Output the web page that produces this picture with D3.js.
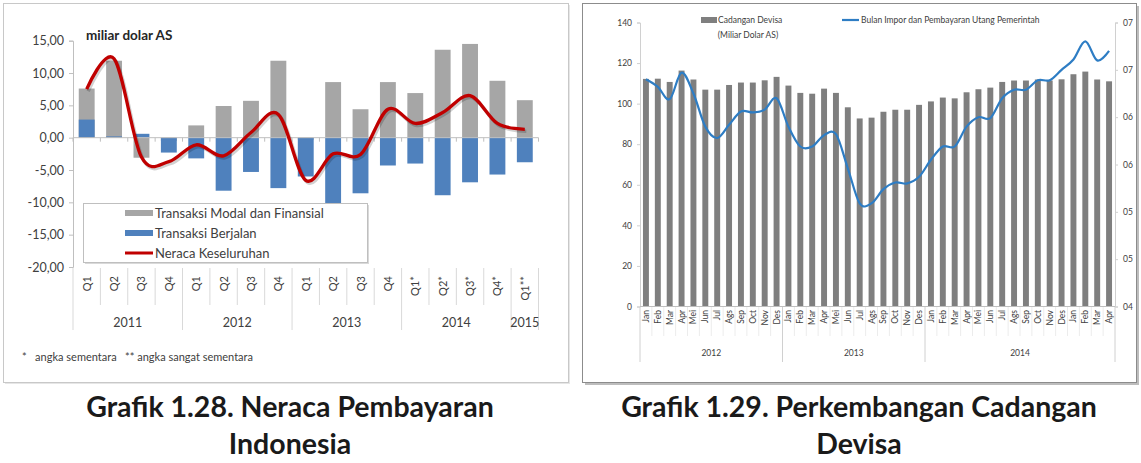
<!DOCTYPE html>
<html lang="id">
<head>
    <meta charset="UTF-8">
    <title>Neraca Pembayaran dan Cadangan Devisa</title>
    <script src="https://d3js.org/d3.v7.min.js"></script>
    <style>
        body { margin: 0; background: #fff; }
        svg { display: block; font-family: Lato, "Open Sans", sans-serif; }
    </style>
</head>
<body>
    <svg id="chart" width="1141" height="463"></svg>

    <script>
        // ---- Grafik 1.28 data (miliar dolar AS) ----
        var quarters = ["Q1", "Q2", "Q3", "Q4", "Q1", "Q2", "Q3", "Q4", "Q1", "Q2", "Q3", "Q4", "Q1*", "Q2*", "Q3*", "Q4*", "Q1**"];
        var quarterYears = ["2011", "2011", "2011", "2011", "2012", "2012", "2012", "2012", "2013", "2013", "2013", "2013", "2014", "2014", "2014", "2014", "2015"];
        var modalFinansial = [7.6, 11.9, -3.1, -0.5, 1.9, 4.9, 5.7, 11.9, -0.3, 8.6, 4.4, 8.6, 6.9, 13.6, 14.5, 8.8, 5.8];
        var transaksiBerjalan = [2.8, 0.2, 0.6, -2.3, -3.2, -8.2, -5.3, -7.8, -6.0, -10.1, -8.6, -4.3, -4.0, -8.9, -6.9, -5.7, -3.8];
        var neracaKeseluruhan = [7.5, 12.2, -3.0, -3.7, -1.1, -2.8, 0.8, 3.6, -6.6, -2.5, -2.6, 4.4, 2.2, 3.9, 6.5, 2.2, 1.3];
        var leftTicks = [-20, -15, -10, -5, 0, 5, 10, 15];
        var leftTickLabels = ["-20,00", "-15,00", "-10,00", "-5,00", "0,00", "5,00", "10,00", "15,00"];

        // ---- Grafik 1.29 data ----
        var months = ["Jan", "Feb", "Mar", "Apr", "Mei", "Jun", "Jul", "Ags", "Sep", "Oct", "Nov", "Des",
                      "Jan", "Feb", "Mar", "Apr", "Mei", "Jun", "Jul", "Ags", "Sep", "Oct", "Nov", "Des",
                      "Jan", "Feb", "Mar", "Apr", "Mei", "Jun", "Jul", "Ags", "Sep", "Oct", "Nov", "Des",
                      "Jan", "Feb", "Mar", "Apr"];
        var monthGroups = [].concat(Array(12).fill("2012"), Array(12).fill("2013"), Array(16).fill("2014"));
        var cadanganDevisa = [112.2, 112.3, 110.7, 116.3, 111.9, 106.9, 106.9, 109.2, 110.4, 110.4, 111.5, 113.2,
                              108.9, 105.3, 104.9, 107.4, 105.3, 98.2, 92.7, 93.1, 96.0, 97.0, 97.0, 99.4,
                              101.1, 103.0, 102.6, 105.6, 107.1, 107.9, 110.7, 111.4, 111.4, 111.9, 111.4, 112.0,
                              114.5, 115.8, 111.9, 111.0];
        var bulanImpor = [6.40, 6.32, 6.19, 6.47, 6.25, 5.90, 5.78, 5.92, 6.06, 6.05, 6.08, 6.20,
                          5.90, 5.69, 5.69, 5.81, 5.82, 5.46, 5.09, 5.09, 5.24, 5.31, 5.30, 5.37,
                          5.55, 5.69, 5.69, 5.90, 6.00, 5.99, 6.20, 6.29, 6.29, 6.39, 6.39, 6.50,
                          6.61, 6.80, 6.60, 6.70];
        var rightLeftTicks = [0, 20, 40, 60, 80, 100, 120, 140];
        var rightRightTicks = [4, 4.5, 5, 5.5, 6, 6.5, 7];
        var rightRightLabels = ["04", "05", "05", "06", "06", "07", "07"];

        var svg = d3.select('#chart');
        var axisGray = '#bfbfbf';
        var textGray = '#404040';

        // helper: spans of equal consecutive group values
        function groupSpans(groups) {
            var spans = [];
            groups.forEach(function (g, i) {
                if (!spans.length || spans[spans.length - 1].key !== g) spans.push({ key: g, start: i, end: i });
                else spans[spans.length - 1].end = i;
            });
            return spans;
        }

        // =====================  LEFT CHART  =====================
        var L = svg.append('g');

        // frame
        L.append('rect').attr('x', 5).attr('y', 5).attr('width', 565).attr('height', 379).attr('fill', '#e6e6e6');
        L.append('rect').attr('x', 3.5).attr('y', 3.5).attr('width', 565).attr('height', 379)
            .attr('fill', '#fff').attr('stroke', '#c8c8c8');

        var idx = d3.range(quarters.length);
        var x1 = d3.scaleBand().domain(idx).range([73, 538.5]).paddingInner(0.42).paddingOuter(0.21);
        var step1 = x1.step();
        var y1 = d3.scaleLinear().domain([-20, 15]).range([267, 40.7]);

        // y axis
        var yAxis1 = L.append('g')
            .attr('transform', 'translate(73,0)')
            .call(d3.axisLeft(y1).tickValues(leftTicks).tickSize(4)
                .tickFormat(function (d, i) { return leftTickLabels[i]; }));
        yAxis1.select('.domain').attr('stroke', axisGray);
        yAxis1.selectAll('.tick line').attr('stroke', axisGray);
        yAxis1.selectAll('.tick text').attr('x', -9).attr('fill', textGray)
            .style('font-size', '12.5px').style('font-family', 'Lato');

        L.append('text').attr('x', 86).attr('y', 40)
            .attr('fill', '#262626').style('font-size', '13.5px').style('font-weight', 'bold')
            .text('miliar dolar AS');

        // bars: modal & finansial (gray), berjalan (blue) overlapping
        L.selectAll('.bar-mf').data(modalFinansial).enter().append('rect')
            .attr('x', function (d, i) { return x1(i); })
            .attr('y', function (d) { return y1(Math.max(0, d)); })
            .attr('width', x1.bandwidth())
            .attr('height', function (d) { return Math.abs(y1(d) - y1(0)); })
            .attr('fill', '#a6a6a6');

        L.selectAll('.bar-tb').data(transaksiBerjalan).enter().append('rect')
            .attr('x', function (d, i) { return x1(i); })
            .attr('y', function (d) { return y1(Math.max(0, d)); })
            .attr('width', x1.bandwidth())
            .attr('height', function (d) { return Math.abs(y1(d) - y1(0)); })
            .attr('fill', '#4f81bd');

        // zero line with ticks at category boundaries
        L.append('line').attr('x1', 73).attr('x2', 538.5).attr('y1', y1(0)).attr('y2', y1(0))
            .attr('stroke', axisGray);
        L.selectAll('.zt').data(d3.range(quarters.length + 1)).enter().append('line')
            .attr('x1', function (d) { return 73 + d * step1; })
            .attr('x2', function (d) { return 73 + d * step1; })
            .attr('y1', y1(0)).attr('y2', y1(0) + 4)
            .attr('stroke', axisGray);

        // overall balance line (smoothed, with soft shadow)
        var line1 = d3.line()
            .x(function (d, i) { return x1(i) + x1.bandwidth() / 2; })
            .y(function (d) { return y1(d); })
            .curve(d3.curveCardinal.tension(0));
        L.append('path').datum(neracaKeseluruhan).attr('d', line1)
            .attr('transform', 'translate(1.5,2)')
            .attr('fill', 'none').attr('stroke', '#000').attr('stroke-opacity', 0.18).attr('stroke-width', 3.5);
        L.append('path').datum(neracaKeseluruhan).attr('d', line1)
            .attr('fill', 'none').attr('stroke', '#c00000').attr('stroke-width', 3.3).attr('stroke-linejoin', 'round');

        // category axis at the bottom
        L.selectAll('.qlab').data(quarters).enter().append('text')
            .attr('transform', function (d, i) {
                return 'translate(' + (x1(i) + x1.bandwidth() / 2 + 4) + ',276) rotate(-90)';
            })
            .attr('text-anchor', 'end')
            .attr('fill', textGray).style('font-size', '11px')
            .text(function (d) { return d; });

        var yearSpans1 = groupSpans(quarterYears);
        var yearBounds1 = [0].concat(yearSpans1.map(function (s) { return s.end + 1; }));
        L.selectAll('.qsep').data(d3.range(quarters.length + 1)).enter().append('line')
            .attr('x1', function (d) { return 73 + d * step1; })
            .attr('x2', function (d) { return 73 + d * step1; })
            .attr('y1', 268)
            .attr('y2', function (d) { return yearBounds1.indexOf(d) >= 0 ? 330 : 305; })
            .attr('stroke', '#d9d9d9');
        L.selectAll('.ylab').data(yearSpans1).enter().append('text')
            .attr('x', function (d) { return 73 + (d.start + d.end + 1) / 2 * step1; })
            .attr('y', 327)
            .attr('text-anchor', 'middle')
            .attr('fill', textGray).style('font-size', '12.5px')
            .text(function (d) { return d.key; });

        // legend
        var lg = L.append('g').attr('transform', 'translate(83,203)');
        lg.append('rect').attr('x', 2).attr('y', 2).attr('width', 284).attr('height', 59).attr('fill', '#d9d9d9');
        lg.append('rect').attr('x', 0.5).attr('y', 0.5).attr('width', 284).attr('height', 59)
            .attr('fill', '#fff').attr('stroke', '#bfbfbf');
        var legendItems1 = [
            { name: 'Transaksi Modal dan Finansial', color: '#a6a6a6', type: 'bar' },
            { name: 'Transaksi Berjalan', color: '#4f81bd', type: 'bar' },
            { name: 'Neraca Keseluruhan', color: '#c00000', type: 'line' }
        ];
        legendItems1.forEach(function (d, i) {
            var cy = 10 + i * 20;
            if (d.type === 'bar') {
                lg.append('rect').attr('x', 42).attr('y', cy - 3).attr('width', 28).attr('height', 6).attr('fill', d.color);
            } else {
                lg.append('line').attr('x1', 42).attr('x2', 70).attr('y1', cy).attr('y2', cy)
                    .attr('stroke', d.color).attr('stroke-width', 3);
            }
            lg.append('text').attr('x', 72).attr('y', cy + 4.5)
                .attr('fill', textGray).style('font-size', '13px').text(d.name);
        });

        L.append('text').attr('x', 22).attr('y', 361)
            .attr('fill', textGray).style('font-size', '11px')
            .attr('xml:space', 'preserve')
            .text('*   angka sementara   ** angka sangat sementara');

        // =====================  RIGHT CHART  =====================
        var R = svg.append('g');

        R.append('rect').attr('x', 585).attr('y', 6).attr('width', 554).attr('height', 379).attr('fill', '#bdbdbd');
        R.append('rect').attr('x', 582.5).attr('y', 3.5).attr('width', 554).attr('height', 379)
            .attr('fill', '#fff').attr('stroke', '#8c8c8c');

        var x2 = d3.scaleBand().domain(d3.range(months.length)).range([640, 1115]).paddingInner(0.5).paddingOuter(0.25);
        var step2 = x2.step();
        var y2 = d3.scaleLinear().domain([0, 140]).range([306.5, 22.5]);
        var y2r = d3.scaleLinear().domain([4, 7]).range([306.5, 22.5]);

        var yAxis2 = R.append('g').attr('transform', 'translate(640,0)')
            .call(d3.axisLeft(y2).tickValues(rightLeftTicks).tickSize(3));
        yAxis2.select('.domain').attr('stroke', '#d0d0d0');
        yAxis2.selectAll('.tick line').attr('stroke', '#d0d0d0');
        yAxis2.selectAll('.tick text').attr('x', -8).attr('fill', textGray)
            .style('font-size', '8.5px').style('font-family', 'Lato');

        var yAxis2r = R.append('g').attr('transform', 'translate(1115,0)')
            .call(d3.axisRight(y2r).tickValues(rightRightTicks).tickSize(3)
                .tickFormat(function (d, i) { return rightRightLabels[i]; }));
        yAxis2r.select('.domain').attr('stroke', '#d0d0d0');
        yAxis2r.selectAll('.tick line').attr('stroke', '#d0d0d0');
        yAxis2r.selectAll('.tick text').attr('x', 8).attr('fill', textGray)
            .style('font-size', '8.5px').style('font-family', 'Lato');

        R.selectAll('.bar-cd').data(cadanganDevisa).enter().append('rect')
            .attr('x', function (d, i) { return x2(i); })
            .attr('y', function (d) { return y2(d); })
            .attr('width', x2.bandwidth())
            .attr('height', function (d) { return y2(0) - y2(d); })
            .attr('fill', '#7f7f7f');

        R.append('line').attr('x1', 640).attr('x2', 1115).attr('y1', y2(0)).attr('y2', y2(0))
            .attr('stroke', '#bfbfbf');

        var line2 = d3.line()
            .x(function (d, i) { return x2(i) + x2.bandwidth() / 2; })
            .y(function (d) { return y2r(d); })
            .curve(d3.curveCardinal.tension(0));
        R.append('path').datum(bulanImpor).attr('d', line2)
            .attr('fill', 'none').attr('stroke', '#2e7dc4').attr('stroke-width', 2.2);

        // month labels and group separators
        R.selectAll('.mlab').data(months).enter().append('text')
            .attr('transform', function (d, i) {
                return 'translate(' + (x2(i) + x2.bandwidth() / 2 + 3) + ',310) rotate(-90)';
            })
            .attr('text-anchor', 'end')
            .attr('fill', textGray).style('font-size', '8.5px')
            .text(function (d) { return d; });

        var spans2 = groupSpans(monthGroups);
        var bounds2 = [0].concat(spans2.map(function (s) { return s.end + 1; }));
        R.selectAll('.msep').data(d3.range(months.length + 1)).enter().append('line')
            .attr('x1', function (d) { return 640 + d * step2; })
            .attr('x2', function (d) { return 640 + d * step2; })
            .attr('y1', 307)
            .attr('y2', function (d) { return bounds2.indexOf(d) >= 0 ? 362 : 336; })
            .attr('stroke', function (d) { return bounds2.indexOf(d) >= 0 ? '#d0d0d0' : '#ececec'; });
        R.selectAll('.glab').data(spans2).enter().append('text')
            .attr('x', function (d) { return 640 + (d.start + d.end + 1) / 2 * step2; })
            .attr('y', 356)
            .attr('text-anchor', 'middle')
            .attr('fill', textGray).style('font-size', '8.5px')
            .text(function (d) { return d.key; });

        // legend
        R.append('rect').attr('x', 701).attr('y', 17).attr('width', 16).attr('height', 6).attr('fill', '#7f7f7f');
        R.append('text').attr('x', 718).attr('y', 23).attr('fill', textGray).style('font-size', '8.5px')
            .text('Cadangan Devisa');
        R.append('text').attr('x', 748).attr('y', 38).attr('text-anchor', 'middle')
            .attr('fill', textGray).style('font-size', '8.5px').text('(Miliar Dolar AS)');
        R.append('line').attr('x1', 842).attr('x2', 859).attr('y1', 20).attr('y2', 20)
            .attr('stroke', '#2e7dc4').attr('stroke-width', 2.2);
        R.append('text').attr('x', 861).attr('y', 23).attr('fill', textGray).style('font-size', '8.5px')
            .text('Bulan Impor dan Pembayaran Utang Pemerintah');

        // =====================  CAPTIONS  =====================
        var captions = [
            { x: 290, lines: ['Grafik 1.28. Neraca Pembayaran', 'Indonesia'] },
            { x: 859, lines: ['Grafik 1.29. Perkembangan Cadangan', 'Devisa'] }
        ];
        captions.forEach(function (c) {
            c.lines.forEach(function (t, i) {
                svg.append('text').attr('x', c.x).attr('y', 417 + i * 37)
                    .attr('text-anchor', 'middle')
                    .attr('fill', '#1a1a1a').style('font-size', '28.5px').style('font-weight', 'bold')
                    .text(t);
            });
        });
    </script>
</body>
</html>
